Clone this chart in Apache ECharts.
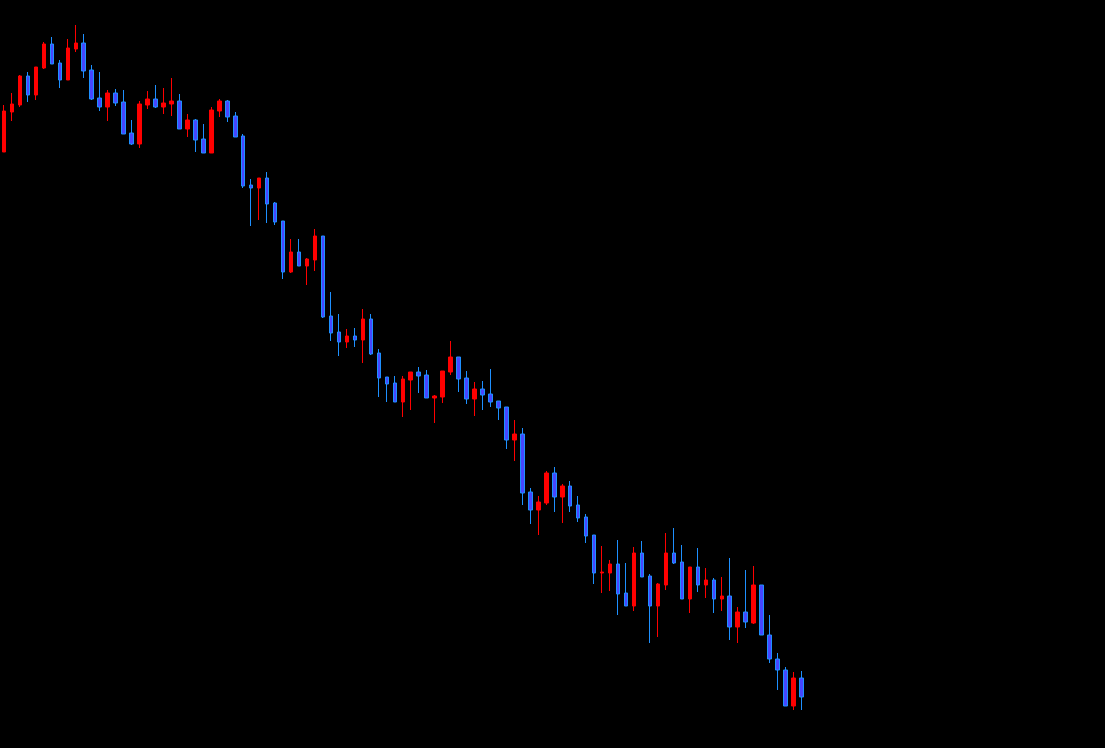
<!DOCTYPE html>
<html>
<head>
<meta charset="utf-8">
<script src="https://cdn.jsdelivr.net/npm/echarts@6/dist/echarts.min.js"></script>
<style>
html,body{margin:0;padding:0;background:#000;}
#chart{width:1105px;height:748px;}
</style>
</head>
<body>
<div id="chart"></div>
<script>
const opens = [596,636,643,672,653,680,704,685,668,699,705,678,650,641,655,646,615,604,643,649,641,644,647,619,628,609,595,637,647,632,612,563,560,570,545,527,476,496,482,488,512,432,416,406,412,408,429,395,371,365,346,368,376,373,350,351,376,391,370,349,359,354,347,341,308,314,256,238,245,275,251,262,243,231,213,175,175,184,155,142,195,172,142,163,195,186,149,181,163,168,149,152,121,136,125,163,113,89,78,42,70];
const closes = [637,644,672,653,681,704,684,668,700,705,677,649,641,655,645,614,604,644,649,641,645,647,619,628,608,595,638,647,631,611,562,560,570,544,526,476,496,482,489,512,431,415,406,412,408,429,394,370,364,346,369,376,372,350,352,377,391,369,349,359,353,346,340,308,314,255,238,246,275,251,262,242,230,212,175,176,184,154,142,195,171,142,164,195,185,149,181,163,168,149,152,121,136,126,163,113,89,78,42,70,51];
const highs = [643,655,673,676,681,706,711,688,709,723,714,683,676,658,659,658,628,647,657,663,660,670,654,634,629,624,641,649,648,636,614,569,570,576,546,527,509,509,490,519,512,456,434,419,420,439,434,399,371,372,372,376,381,378,353,377,407,391,377,366,367,379,347,341,328,320,260,252,277,281,264,267,252,234,213,202,188,208,185,201,207,174,165,215,220,203,181,200,180,170,171,190,141,178,182,163,133,95,81,76,77];
const lows = [596,627,641,646,648,679,684,660,668,696,670,648,637,627,642,614,603,600,639,640,634,632,619,611,596,595,595,631,626,611,560,522,528,525,523,469,475,482,463,477,430,407,392,400,401,385,393,351,346,346,331,338,355,350,325,345,373,356,344,332,338,341,328,299,287,243,224,213,243,236,225,236,226,205,164,155,157,133,142,137,171,105,111,158,184,149,135,156,150,135,137,108,105,120,124,113,85,58,42,38,38];
const categories = opens.map((_, i) => String(i + 1));

const data = opens.map((o, i) => [o, closes[i], lows[i], highs[i]]);

const chart = echarts.init(document.getElementById('chart'), null, {renderer: 'canvas'});
chart.setOption({
  backgroundColor: '#000000',
  animation: false,
  grid: {left: -2.5, top: 0, width: 808, height: 748, containLabel: false},
  xAxis: {type: 'category', data: categories, show: false, boundaryGap: true},
  yAxis: {type: 'value', min: 0, max: 748, show: false},
  series: [{
    type: 'candlestick',
    data: data,
    barWidth: 4,
    itemStyle: {
      color: '#ff0000',
      borderColor: '#ff0000',
      color0: '#4646ff',
      borderColor0: '#1e90ff',
      borderWidth: 1
    }
  }]
});
</script>
</body>
</html>
